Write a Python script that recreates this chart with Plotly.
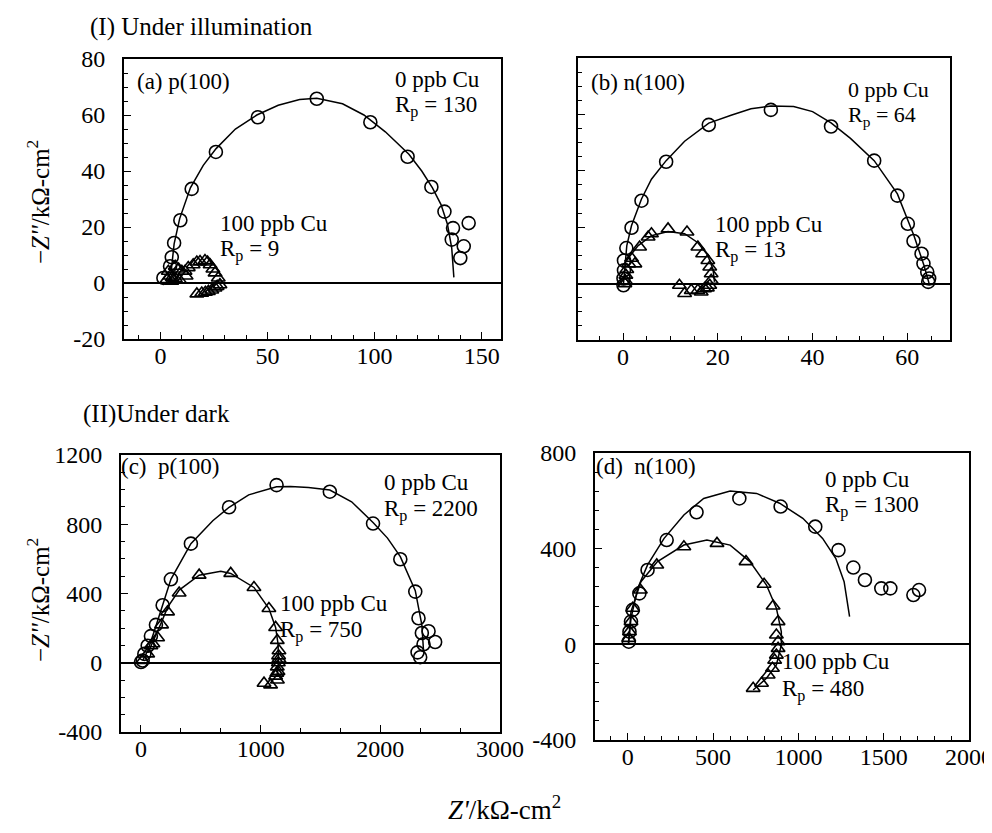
import plotly.graph_objects as go

# ---------------- data ----------------
# (a) p(100), illumination
a0_x = [73, 45.5, 25.9, 14.6, 9.3, 6.4, 5.3, 4.5, 1.4, 98, 115.4, 126.5, 132.6, 136.6, 136, 141.6, 140, 143.9]
a0_y = [65.8, 59.2, 46.8, 33.6, 22.4, 14.3, 9.2, 6, 1.8, 57.4, 45.1, 34.3, 25.5, 19.6, 15.5, 13.1, 8.9, 21.4]
a0_fit_x = [5, 6.4, 9, 14, 20, 26, 35, 45, 55, 65, 73, 85, 95, 105, 116, 122, 127, 131, 134, 136, 137]
a0_fit_y = [4, 14, 23, 34, 42, 48, 55, 60, 63.5, 65.5, 66, 64, 60, 54, 46, 40, 34, 28, 21, 12.5, 2]
a1_x = [3, 5.3, 3.7, 4.5, 6.9, 8.5, 10, 11.5, 13, 15.3, 17, 18.5, 20.8, 22, 23.2, 24.5, 25.5, 27, 27.8,
        26.5, 25.5, 24, 22.4, 21, 19.3, 17, 5.5, 7, 9, 12]
a1_y = [1.2, 0.6, 4.2, 2.5, 6, 5, 4.2, 4.2, 5.5, 6.5, 7.5, 7.7, 8, 7.5, 6.5, 5, 3.6, 1.8, -0.6,
        -1.2, -1.8, -2.5, -3, -3.3, -3.6, -3.9, 2, 1.5, 1, 2.5]

# (b) n(100), illumination
b0_x = [31.2, 18.1, 43.9, 9.1, 53, 3.9, 57.9, 60.1, 61.3, 63, 63.4, 64.2, 64.6, 64.4, 1.8, 0.7, 0.2, 0.2, 0.1, 0.1]
b0_y = [61.6, 56.3, 55.7, 43.2, 43.6, 29.4, 31.2, 21.2, 15.1, 10.6, 7.1, 4.1, 1.8, 0.6, 19.8, 12.6, 8.2, 4.7, 1.8, -0.6]
b0_fit_x = [0.1, 0.3, 0.8, 1.8, 3.9, 6, 9.1, 13, 18.1, 22.8, 27, 31.2, 36, 40, 43.9, 48, 53, 57.9, 61.4, 63.5, 64.6]
b0_fit_y = [0, 4, 13.5, 20.6, 30, 37, 43.6, 50.5, 56.9, 59.7, 62, 63, 62.8, 61, 57, 51.5, 43.6, 31.8, 17, 6.5, 0]
b1_x = [9.5, 13.5, 6, 5.3, 3.5, 2.5, 15.8, 16.8, 17.9, 18.3, 18.6, 18.6, 18.3, 17.2, 15.8, 14.4, 11.9,
        13, 16.5, 17.8, 0.5, 0.6, 0.8, 1.2, 1.8, 0.4]
b1_y = [19.4, 18.3, 17.7, 16.5, 13, 7, 13, 10.6, 8.2, 5.9, 3.5, 1.2, -0.6, -1.8, -2.4, -2.4, -0.6,
        -3.5, -3, -1.5, 1, 3, 5, 7, 9, 0]
b1_fit_x = [1, 3.2, 6, 9.5, 13, 15.8, 17.9, 19, 19.3]
b1_fit_y = [8.8, 13.5, 17, 18.5, 17.7, 14.5, 10, 5, 0.6]

# (c) p(100), dark
c0_x = [1133, 1578, 736, 1939, 417, 2167, 250, 2292, 181, 2319, 2347, 2403, 2458, 2361, 2311, 2333,
        125, 83, 56, 28, 14, 0]
c0_y = [1026, 988, 898, 804, 688, 598, 482, 411, 332, 257, 172, 182, 120, 107, 60, 32,
        219, 154, 98, 51, 13, 4]
c0_fit_x = [14, 56, 111, 181, 250, 417, 600, 736, 900, 1133, 1250, 1400, 1578, 1760, 1939, 2060, 2167, 2292, 2347, 2361]
c0_fit_y = [13, 69, 182, 332, 482, 688, 820, 898, 970, 1016, 1018, 1012, 998, 930, 810, 720, 613, 416, 219, 69]
c1_x = [750, 486, 944, 319, 1069, 222, 1125, 172, 1139, 1153, 1153, 1139, 1125, 1083, 1028, 139, 83, 56, 14,
        1150, 1148, 1145, 1140, 1135, 100]
c1_y = [516, 506, 435, 403, 313, 294, 204, 219, 129, 69, 22, -24, -77, -128, -118, 144, 98, 51, 13,
        40, 0, -50, -100, -60, 110]
c1_fit_x = [60, 120, 172, 222, 319, 486, 667, 750, 944, 1069, 1125, 1145, 1150, 1145, 1135]
c1_fit_y = [60, 150, 235, 320, 420, 506, 529, 516, 435, 313, 204, 110, 20, -40, -80]

# (d) n(100), dark
d0_x = [654, 896, 403, 1099, 228, 1235, 1322, 1390, 1486, 1539, 1674, 1707, 116, 68, 29, 19, 10, 6]
d0_y = [610, 576, 552, 492, 436, 394, 321, 269, 234, 234, 206, 227, 311, 213, 144, 95, 53, 11]
d0_fit_x = [4, 19, 58, 116, 213, 329, 445, 600, 755, 890, 1026, 1142, 1219, 1268, 1300]
d0_fit_y = [0, 109, 234, 332, 443, 541, 610, 641, 631, 590, 527, 443, 360, 262, 116]
d1_x = [329, 523, 693, 799, 852, 881, 871, 881, 881, 871, 861, 848, 823, 784, 735, 170, 74, 29, 19, 10, 6]
d1_y = [408, 422, 346, 251, 160, 95, 39, 11, -17, -45, -66, -100, -128, -163, -184, 332, 227, 151, 95, 53, 25]
d1_fit_x = [4, 19, 77, 174, 329, 464, 600, 716, 813, 871, 900, 900, 871, 813, 735]
d1_fit_y = [0, 137, 262, 346, 415, 436, 415, 346, 248, 151, 53, -3, -86, -142, -191]

# tick labels
a_yticks = [-20, 0, 20, 40, 60, 80]
a_yticktext = ["-20", "0", "20", "40", "60", "80"]
a_xticks = [0, 50, 100, 150]
b_xticks = [0, 20, 40, 60]
c_yticks = [-400, 0, 400, 800, 1200]
c_yticktext = ["-400", "0", "400", "800", "1200"]
c_xticks = [0, 1000, 2000, 3000]
d_yticks = [-400, 0, 400, 800]
d_yticktext = ["-400", "0", "400", "800"]
d_xticks = [0, 500, 1000, 1500, 2000]

# ---------------- figure ----------------
W, H = 992, 833
FONT = "Liberation Serif"

def dx(p0, p1):
    return [p0 / W, p1 / W]

def dy(top, bottom):
    return [1 - bottom / H, 1 - top / H]

fig = go.Figure()

circ = dict(symbol="circle-open", size=13, color="black", line=dict(width=1.6, color="black"))
tri = dict(symbol="triangle-up-open", size=12, color="black", line=dict(width=1.6, color="black"))
lin = dict(color="black", width=1.5)

def add_panel(k, cx, cy, fx, fy, tx, ty, fx2=None, fy2=None):
    xa = "x" if k == 1 else f"x{k}"
    ya = "y" if k == 1 else f"y{k}"
    fig.add_trace(go.Scatter(x=fx, y=fy, mode="lines", line=lin, xaxis=xa, yaxis=ya, showlegend=False))
    if fx2 is not None:
        fig.add_trace(go.Scatter(x=fx2, y=fy2, mode="lines", line=lin, xaxis=xa, yaxis=ya, showlegend=False))
    fig.add_trace(go.Scatter(x=cx, y=cy, mode="markers", marker=circ, xaxis=xa, yaxis=ya, showlegend=False))
    fig.add_trace(go.Scatter(x=tx, y=ty, mode="markers", marker=tri, xaxis=xa, yaxis=ya, showlegend=False))

add_panel(1, a0_x, a0_y, a0_fit_x, a0_fit_y, a1_x, a1_y)
add_panel(2, b0_x, b0_y, b0_fit_x, b0_fit_y, b1_x, b1_y, b1_fit_x, b1_fit_y)
add_panel(3, c0_x, c0_y, c0_fit_x, c0_fit_y, c1_x, c1_y, c1_fit_x, c1_fit_y)
add_panel(4, d0_x, d0_y, d0_fit_x, d0_fit_y, d1_x, d1_y, d1_fit_x, d1_fit_y)

tickfont = dict(family=FONT, size=24, color="black")

def xax(domain, rng, ticks, minor, anchor):
    return dict(domain=domain, range=rng, tickvals=ticks, ticks="inside", ticklen=7, tickwidth=1.2,
                tickcolor="black", showline=True, linecolor="black", linewidth=2, mirror=True,
                showgrid=False, zeroline=False, tickfont=tickfont, anchor=anchor, automargin=False,
                ticklabelstandoff=-6,
                minor=dict(ticks="inside", dtick=minor, ticklen=4, tickcolor="black", tickwidth=1, showgrid=False))

def yax(domain, rng, ticks, text, minor, anchor, show=True):
    return dict(domain=domain, range=rng, tickvals=ticks, ticktext=text, ticks="inside", ticklen=7,
                tickwidth=1.2, tickcolor="black", showline=True, linecolor="black", linewidth=2, mirror=True,
                showgrid=False, zeroline=True, zerolinecolor="black", zerolinewidth=1.6, automargin=False,
                tickfont=tickfont, anchor=anchor, showticklabels=show, ticklabelstandoff=12,
                minor=dict(ticks="inside", dtick=minor, ticklen=4, tickcolor="black", tickwidth=1, showgrid=False))

fig.update_layout(
    width=W, height=H, margin=dict(l=0, r=0, t=0, b=0, autoexpand=False),
    paper_bgcolor="white", plot_bgcolor="white",
    font=dict(family=FONT, color="black"),
    xaxis=xax(dx(116, 493), [-17, 159], a_xticks, 10, "y"),
    yaxis=yax(dy(51, 331), [-20, 80], a_yticks, a_yticktext, 5, "x"),
    xaxis2=xax(dx(570, 942), [-9.5, 69], b_xticks, 5, "y2"),
    yaxis2=yax(dy(50, 332), [-20, 80], a_yticks, a_yticktext, 5, "x2", show=False),
    xaxis3=xax(dx(113, 492), [-167, 3000], c_xticks, 1000 / 3, "y3"),
    yaxis3=yax(dy(447, 724), [-400, 1200], c_yticks, c_yticktext, 100, "x3"),
    xaxis4=xax(dx(587, 961), [-192, 2000], d_xticks, 100, "y4"),
    yaxis4=yax(dy(445, 732), [-400, 800], d_yticks, d_yticktext, 80, "x4"),
)

def ann(text, x, y, size=23, xanchor="left", angle=0):
    fig.add_annotation(text=text, x=x / W, y=1 - y / H, xref="paper", yref="paper",
                       xanchor=xanchor, yanchor="middle", showarrow=False, textangle=angle,
                       font=dict(family=FONT, size=size, color="black"))

ann("(I) Under illumination", 80, 19, size=25)
ann("(II)Under dark", 73, 406, size=25)

ann("(a) p(100)", 127, 73)
ann("0 ppb Cu", 385, 72)
ann("R<sub>p</sub> = 130", 385, 98)
ann("100 ppb Cu", 210, 215)
ann("R<sub>p</sub> = 9", 210, 242)

ann("(b) n(100)", 581, 74)
ann("0 ppb Cu", 838, 81, size=22)
ann("R<sub>p</sub> = 64", 838, 108, size=22)
ann("100 ppb Cu", 705, 217)
ann("R<sub>p</sub> = 13", 705, 243)

ann("(c)  p(100)", 111, 458)
ann("0 ppb Cu", 374, 474)
ann("R<sub>p</sub> = 2200", 374, 502)
ann("100 ppb Cu", 270, 595)
ann("R<sub>p</sub> = 750", 270, 623)

ann("(d)  n(100)", 586, 458)
ann("0 ppb Cu", 815, 471)
ann("R<sub>p</sub> = 1300", 815, 498)
ann("100 ppb Cu", 772, 653)
ann("R<sub>p</sub> = 480", 772, 682)

ann("−<i>Z''</i>/kΩ-cm<sup>2</sup>", 30, 194, size=25, xanchor="center", angle=-90)
ann("−<i>Z''</i>/kΩ-cm<sup>2</sup>", 30, 592, size=25, xanchor="center", angle=-90)
ann("<i>Z'</i>/kΩ-cm<sup>2</sup>", 496, 800, size=27, xanchor="center")

fig.write_html("out.html")
